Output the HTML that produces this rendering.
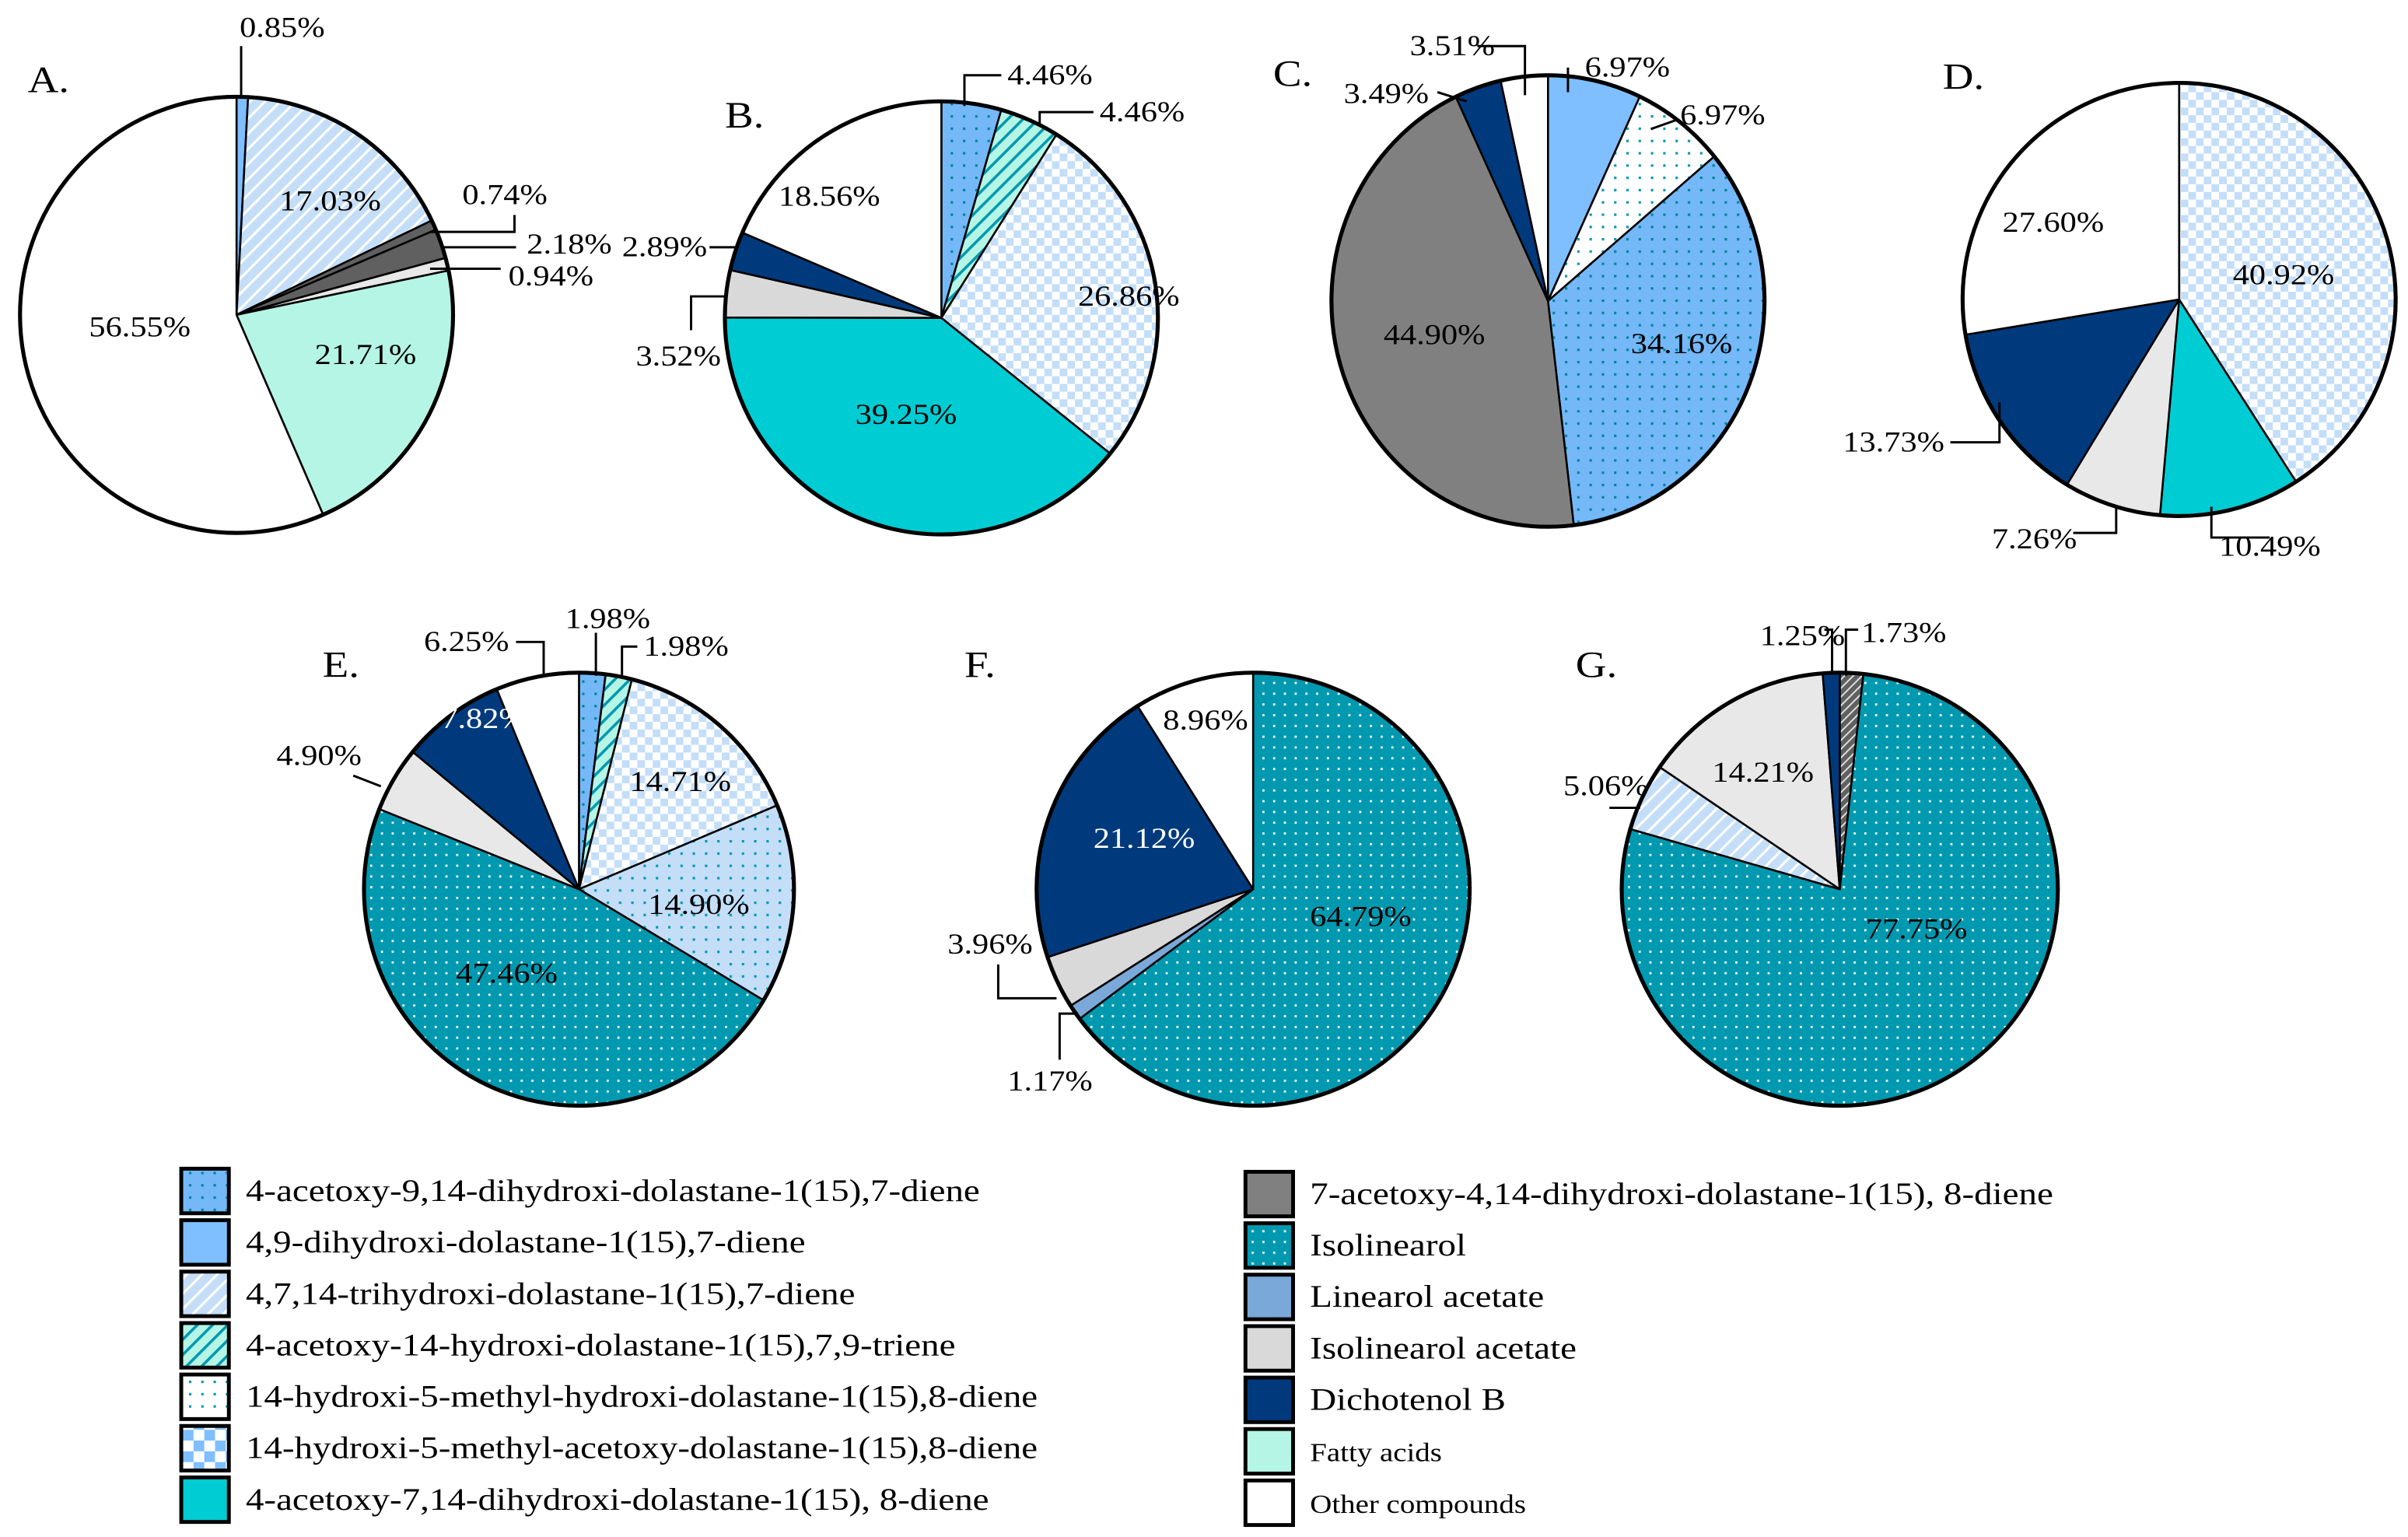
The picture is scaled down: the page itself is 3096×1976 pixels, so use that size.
<!DOCTYPE html>
<html><head><meta charset="utf-8">
<style>
html,body{margin:0;padding:0;background:#fff}
svg{display:block}
text{font-family:"Liberation Serif",serif;fill:#000}
</style></head>
<body>
<svg id="chart" width="3096" height="1976" viewBox="0 0 1568 1000.8" xmlns="http://www.w3.org/2000/svg">
<defs>
<pattern id="p1" width="8" height="8" patternUnits="userSpaceOnUse"><rect width="8" height="8" fill="#74b8f8"/><rect x="3" y="3" width="1.6" height="1.6" fill="#00839a"/></pattern>
<pattern id="p3" width="7" height="7" patternUnits="userSpaceOnUse" patternTransform="rotate(45)"><rect width="7" height="7" fill="#c4def8"/><rect width="1.6" height="7" fill="#fff"/></pattern>
<pattern id="p4" width="7" height="7" patternUnits="userSpaceOnUse" patternTransform="rotate(45)"><rect width="7" height="7" fill="#b5f5e5"/><rect width="1.8" height="7" fill="#0099b0"/></pattern>
<pattern id="p5" width="8" height="8" patternUnits="userSpaceOnUse"><rect width="8" height="8" fill="#fff"/><rect x="3" y="3" width="1.6" height="1.6" fill="#0099b0"/></pattern>
<pattern id="p5b" width="8" height="8" patternUnits="userSpaceOnUse"><rect width="8" height="8" fill="#c4def8"/><rect x="3" y="3" width="1.6" height="1.6" fill="#0099b0"/></pattern>
<pattern id="p6" width="10" height="10" patternUnits="userSpaceOnUse"><rect width="10" height="10" fill="#fff"/><rect width="5" height="5" fill="#c4def8"/><rect x="5" y="5" width="5" height="5" fill="#c4def8"/></pattern>
<pattern id="p6L" width="14" height="14" patternUnits="userSpaceOnUse"><rect width="14" height="14" fill="#fff"/><rect width="7" height="7" fill="#7fbfff"/><rect x="7" y="7" width="7" height="7" fill="#7fbfff"/></pattern>
<pattern id="p9" width="7" height="7" patternUnits="userSpaceOnUse"><rect width="7" height="7" fill="#0099b0"/><rect x="3" y="3" width="1.4" height="1.4" fill="#fff"/></pattern>
<pattern id="p8s" width="4" height="4" patternUnits="userSpaceOnUse" patternTransform="rotate(45)"><rect width="4" height="4" fill="#606060"/><rect width="1" height="4" fill="#ddd"/></pattern>
</defs>
<g id="pies"></g>
<g id="legend"></g>
</svg>
<script>
// ---- data ----
const panelNames = ["A.","B.","C.","D.","E.","F.","G."];
const valuesA = [0.85, 17.03, 0.74, 2.18, 0.94, 21.71, 56.55];
const fillsA  = ["#7fbfff","url(#p3)","#606060","#606060","#e8e8e8","#b5f5e5","#fff"];
const valuesB = [4.46, 4.46, 26.86, 39.25, 3.52, 2.89, 18.56];
const fillsB  = ["url(#p1)","url(#p4)","url(#p6)","#00ccd3","#d9d9d9","#003a7d","#fff"];
const valuesC = [6.97, 6.97, 34.16, 44.90, 3.49, 3.51];
const fillsC  = ["#7fbfff","url(#p5)","url(#p1)","#808080","#003a7d","#fff"];
const valuesD = [40.92, 10.49, 7.26, 13.73, 27.60];
const fillsD  = ["url(#p6)","#00ccd3","#e8e8e8","#003a7d","#fff"];
const valuesE = [1.98, 1.98, 14.71, 14.90, 47.46, 4.90, 7.82, 6.25];
const fillsE  = ["url(#p1)","url(#p4)","url(#p6)","url(#p5b)","url(#p9)","#e8e8e8","#003a7d","#fff"];
const valuesF = [64.79, 1.17, 3.96, 21.12, 8.96];
const fillsF  = ["url(#p9)","#7aa8d8","#d9d9d9","#003a7d","#fff"];
const valuesG = [1.73, 77.75, 5.06, 14.21, 1.25];
const fillsG  = ["url(#p8s)","url(#p9)","url(#p3)","#e8e8e8","#003a7d"];
const legendLeft = ["4-acetoxy-9,14-dihydroxi-dolastane-1(15),7-diene","4,9-dihydroxi-dolastane-1(15),7-diene","4,7,14-trihydroxi-dolastane-1(15),7-diene","4-acetoxy-14-hydroxi-dolastane-1(15),7,9-triene","14-hydroxi-5-methyl-hydroxi-dolastane-1(15),8-diene","14-hydroxi-5-methyl-acetoxy-dolastane-1(15),8-diene","4-acetoxy-7,14-dihydroxi-dolastane-1(15), 8-diene"];
const legendRight = ["7-acetoxy-4,14-dihydroxi-dolastane-1(15), 8-diene","Isolinearol","Linearol acetate","Isolinearol acetate","Dichotenol B","Fatty acids","Other compounds"];

// ---- layout ----
const NS="http://www.w3.org/2000/svg";
const SX=1.16;
const pieGeo=[[154,205,141,142],[613,207,141,141],[1008,196,141,147],[1419,195,141,141],[377,579,140,141],[816,579,141,141],[1198,579,142,141]];
const titlePos=[[18,60],[472,83],[829,56],[1265,58],[210,441],[628,441],[1026,441]];
const labelLayout=[
 [["0.85%",156,24,"start",0,[[157,30],[157,64]]],["17.03%",215,137,"middle",0,null],["0.74%",301,133,"start",0,[[280,151],[335,151],[335,140]]],["2.18%",343,165,"start",0,[[287,161],[336,161]]],["0.94%",331,186,"start",0,[[280,175],[326,175]]],["21.71%",238,237,"middle",0,null],["56.55%",91,219,"middle",0,null]],
 [["4.46%",656,55,"start",0,[[628,69],[628,49],[652,49]]],["4.46%",716,79,"start",0,[[677,82],[677,73],[712,73]]],["26.86%",735,199,"middle",0,null],["39.25%",590,276,"middle",0,null],["3.52%",414,238,"start",0,[[473,193],[450,193],[450,215]]],["2.89%",405,167,"start",0,[[480,161],[462,161]]],["18.56%",540,134,"middle",0,null]],
 [["6.97%",1032,50,"start",0,[[1021,60],[1021,44]]],["6.97%",1094,81,"start",0,[[1075,84],[1092,78]]],["34.16%",1095,230,"middle",0,null],["44.90%",934,224,"middle",0,null],["3.49%",875,67,"start",0,[[955,66],[936,60]]],["3.51%",918,36,"start",0,[[993,62],[993,30],[962,30]]]],
 [["40.92%",1487,185,"middle",0,null],["10.49%",1445,362,"start",0,[[1440,330],[1440,350],[1478,350]]],["7.26%",1297,357,"start",0,[[1378,330],[1378,347],[1350,347]]],["13.73%",1200,294,"start",0,[[1302,262],[1302,288],[1270,288]]],["27.60%",1337,151,"middle",0,null]],
 [["1.98%",368,409,"start",0,[[388,440],[388,412]]],["1.98%",419,427,"start",0,[[405,441],[405,421],[415,421]]],["14.71%",443,515,"middle",0,null],["14.90%",455,595,"middle",0,null],["47.46%",330,640,"middle",0,null],["4.90%",180,498,"start",0,[[248,512],[230,505]]],["7.82%",315,474,"middle",1,null],["6.25%",276,424,"start",0,[[354,440],[354,418],[336,418]]]],
 [["64.79%",886,603,"middle",0,null],["1.17%",656,710,"start",0,[[702,660],[690,660],[690,690]]],["3.96%",617,621,"start",0,[[688,650],[650,650],[650,628]]],["21.12%",745,552,"middle",1,null],["8.96%",785,475,"middle",0,null]],
 [["1.73%",1212,418,"start",0,[[1202,440],[1202,410],[1210,410]]],["77.75%",1248,611,"middle",0,null],["5.06%",1018,518,"start",0,[[1068,526],[1048,526]]],["14.21%",1148,509,"middle",0,null],["1.25%",1146,420,"start",0,[[1193,438],[1193,410],[1188,410]]]]
];
const allValues=[valuesA,valuesB,valuesC,valuesD,valuesE,valuesF,valuesG];
const allFills=[fillsA,fillsB,fillsC,fillsD,fillsE,fillsF,fillsG];

function mk(tag,attrs,parent){const e=document.createElementNS(NS,tag);for(const k in attrs)e.setAttribute(k,attrs[k]);parent.appendChild(e);return e;}
function mkText(x,y,size,anchor,parent){return mk('text',{x:0,y:0,'font-size':size,'text-anchor':anchor,transform:`translate(${x},${y}) scale(${SX},1)`},parent);}
function pt(g,a){return [g[0]+g[2]*Math.sin(a),g[1]-g[3]*Math.cos(a)];}
const piesG=document.getElementById('pies');
allValues.forEach((vals,pi)=>{
  const g=pieGeo[pi];
  const grp=mk('g',{},piesG);
  
  
  const total=vals.reduce((s,v)=>s+v,0);
  let acc=0;
  vals.forEach((v,si)=>{
    const a0=acc/total*2*Math.PI; acc+=v; const a1=acc/total*2*Math.PI;
    const p0=pt(g,a0),p1=pt(g,a1);
    const large=(a1-a0)>Math.PI?1:0;
    const path=mk('path',{d:`M${g[0]},${g[1]} L${p0[0]},${p0[1]} A${g[2]},${g[3]} 0 ${large} 1 ${p1[0]},${p1[1]} Z`,fill:allFills[pi][si],stroke:'#000','stroke-width':1.3,'stroke-linejoin':'round'},grp);
    
    
  });
  const ring=mk('ellipse',{cx:g[0],cy:g[1],rx:g[2],ry:g[3],fill:'none',stroke:'#000','stroke-width':2.6},grp);
  
  
  const t=mkText(titlePos[pi][0],titlePos[pi][1],24,'start',grp);
  t.textContent=panelNames[pi];
  
  
  labelLayout[pi].forEach((L,li)=>{
    if(L[5]){const pl=mk('polyline',{points:L[5].map(p=>p.join(',')).join(' '),fill:'none',stroke:'#000','stroke-width':1.5},grp);
      
      }
    const lt=mkText(L[1],L[2],18.5,L[3],grp);
    if(L[4])lt.setAttribute('style','fill:#fff');
    lt.textContent=(vals[li]!==undefined?vals[li].toFixed(2)+'%':L[0]);
    
    
  });
});
const legG=document.getElementById('legend');
const leftFills=["url(#p1)","#7fbfff","url(#p3)","url(#p4)","url(#p5)","url(#p6L)","#00ccd3"];
const rightFills=["#808080","url(#p9)","#7aa8d8","#d9d9d9","#003a7d","#b5f5e5","#fff"];
function legendCol(items,fills,bx,tx,y0,step,sizes){
  items.forEach((s,i)=>{
    const y=y0+i*step;
    const r=mk('rect',{x:bx,y:y-14,width:31,height:29,fill:fills[i],stroke:'#000','stroke-width':2.5},legG);
    
    
    const t=mkText(tx,y+7,sizes(i),'start',legG);
    t.textContent=s;
    
    
  });
}
legendCol(legendLeft,leftFills,118,160,775,33.5,()=>20.5);
legendCol(legendRight,rightFills,811,853,777,33.5,i=>i>=5?17:20.5);
</script>
</body></html>
